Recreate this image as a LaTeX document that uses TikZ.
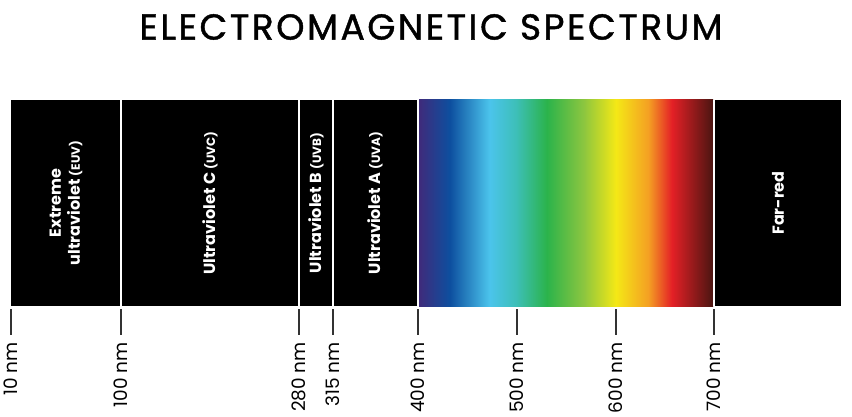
\documentclass[tikz,border=0pt]{standalone}
\usepackage{fontspec}
\setmainfont{Poppins}
\newfontfamily\titlefont[FakeBold=1.2,LetterSpace=7]{Poppins}
\usetikzlibrary{positioning}
\definecolor{sp0}{HTML}{3F2B7B}
\definecolor{sp1}{HTML}{0D4F9F}
\definecolor{sp2}{HTML}{4BC4EC}
\definecolor{sp3}{HTML}{3DBFB8}
\definecolor{sp4}{HTML}{2BB34B}
\definecolor{sp5}{HTML}{8CC63F}
\definecolor{sp6}{HTML}{F4E816}
\definecolor{sp7}{HTML}{F4A023}
\definecolor{sp8}{HTML}{E42026}
\definecolor{sp9}{HTML}{4A1511}
\definecolor{tickgray}{HTML}{333333}
\pgfdeclarehorizontalshading{spectrum}{100bp}{%
color(0bp)=(sp0); color(25bp)=(sp0); color(30.25bp)=(sp1); color(37bp)=(sp2);
color(41.5bp)=(sp3); color(46.75bp)=(sp4); color(53bp)=(sp5); color(58.5bp)=(sp6);
color(64bp)=(sp7); color(68bp)=(sp8); color(75bp)=(sp9); color(100bp)=(sp9)}
\begin{document}
\begin{tikzpicture}[x=1pt,y=-1pt,
  seg/.style={fill=black,inner sep=0pt,outer sep=0pt},
  sep/.style={draw=white,line width=2pt},
  bandlabel/.style={text=white,font=\bfseries\fontsize{16}{19}\selectfont,rotate=90,align=center},
  tickline/.style={draw=tickgray,line width=1.3pt},
  ticklabel/.style={rotate=90,anchor=east,inner sep=0pt,font=\fontsize{18.5}{21}\selectfont}]
\useasboundingbox (0,0) rectangle (852,417);
\node[font=\titlefont\fontsize{36}{40}\selectfont] (title) at (431,27) {ELECTROMAGNETIC SPECTRUM};
% bar
\path[seg] (11,100) rectangle (841,306);
\path[shading=spectrum] (419,100) rectangle (713,306);
\foreach \x in {121,299,333,418,714}{\draw[sep] (\x,100) -- (\x,306);}
% labels
\node[bandlabel] (euv) at (66,203) {Extreme\\ultraviolet {\fontsize{12}{14}\selectfont(EUV)}};
\node[bandlabel] (uvc) at (210,203) {Ultraviolet C {\fontsize{12}{14}\selectfont(UVC)}};
\node[bandlabel] (uvb) at (316,203) {Ultraviolet B {\fontsize{12}{14}\selectfont(UVB)}};
\node[bandlabel] (uva) at (375,203) {Ultraviolet A {\fontsize{12}{14}\selectfont(UVA)}};
\node[bandlabel] (far) at (778,203) {Far-red};
% ticks
\foreach \x/\t in {11/10,121/100,299/280,333/315,418/400,517/500,616/600,714/700}{
  \coordinate (t\t a) at (\x,309);
  \coordinate (t\t b) at (\x,335);
  \draw[tickline] (t\t a) -- (t\t b);
  \node[ticklabel] (l\t) at (\x,342) {\t\ nm};
}
\end{tikzpicture}
\end{document}
